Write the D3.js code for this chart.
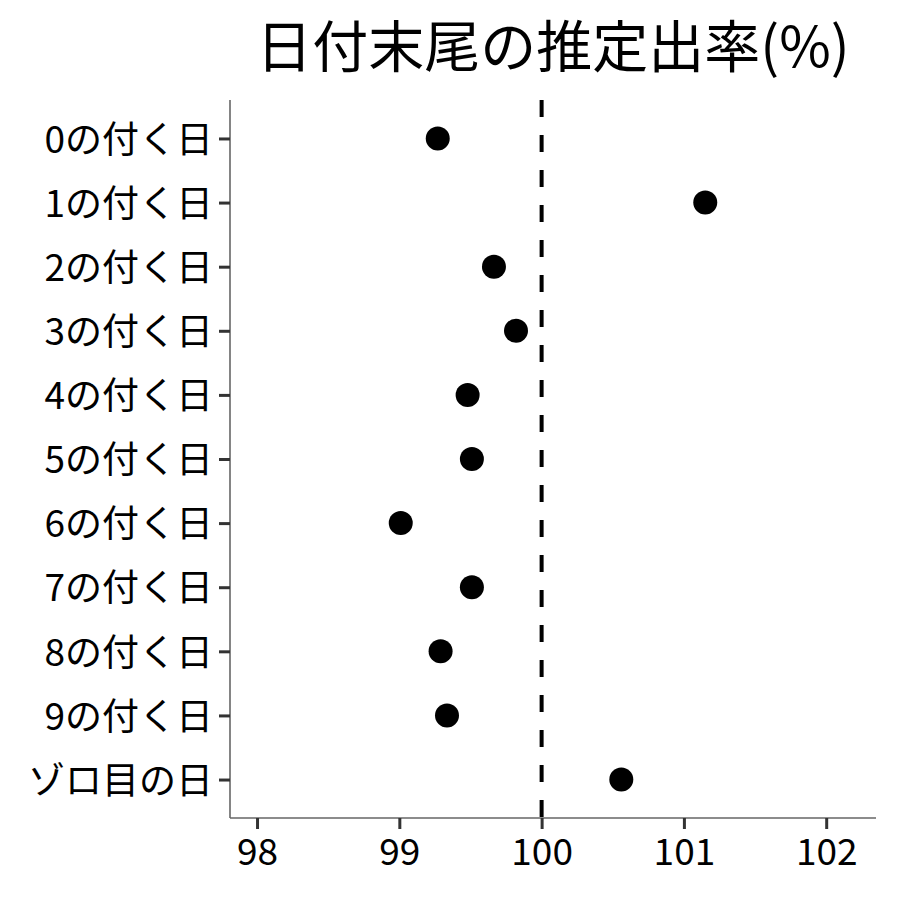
<!DOCTYPE html>
<html>
<head>
<meta charset="utf-8">
<script src="https://cdn.jsdelivr.net/npm/d3@7"></script>
<style>
  body { margin: 0; background: #fff; }
  svg text { font-family: "Noto Sans CJK JP", "Noto Sans", sans-serif; fill: #000; }
</style>
</head>
<body>
<div id="chart"></div>
<script>
const title = "日付末尾の推定出率(%)";
const categories = ["0の付く日", "1の付く日", "2の付く日", "3の付く日", "4の付く日",
    "5の付く日", "6の付く日", "7の付く日", "8の付く日", "9の付く日", "ゾロ目の日"];
const rates = [99.27, 101.15, 99.665, 99.82, 99.48, 99.51, 99.01, 99.51, 99.29, 99.335, 100.56];
const xTicks = [98, 99, 100, 101, 102];
const refValue = 100;

const W = 900, H = 900;
const margin = { top: 100, right: 24, bottom: 82, left: 230 };
const width = W - margin.left - margin.right;
const height = H - margin.top - margin.bottom;

const svg = d3.select("#chart").append("svg")
    .attr("width", W)
    .attr("height", H);

const g = svg.append("g")
    .attr("transform", `translate(${margin.left},${margin.top})`);

// x scale (extends a bit past the tick range, like the reference)
const x = d3.scaleLinear()
    .domain([97.81, 102.35])
    .range([0, width]);

// discrete y with 0.6 unit padding on each end
const y = d3.scalePoint()
    .domain(categories)
    .range([0, height])
    .padding(0.6);

// axes
const xAxis = g.append("g")
    .attr("transform", `translate(0,${height})`)
    .call(d3.axisBottom(x).tickValues(xTicks).tickSize(11).tickPadding(10).tickFormat(d3.format("d")));

const yAxis = g.append("g")
    .call(d3.axisLeft(y).tickSize(11).tickPadding(6));

[xAxis, yAxis].forEach(a => {
    a.select(".domain").attr("stroke", "#666").attr("stroke-width", 1.6);
    a.selectAll(".tick line").attr("stroke", "#333").attr("stroke-width", 3);
    a.selectAll(".tick text").style("font-size", "37px").attr("fill", "#000");
});
yAxis.selectAll(".tick text").attr("dy", "0.37em");
// x axis domain line without end caps
xAxis.select(".domain").attr("d", `M0,0H${width}`);
yAxis.select(".domain").attr("d", `M0,0V${height}`);

// reference line
g.append("line")
    .attr("x1", x(refValue)).attr("x2", x(refValue))
    .attr("y1", 0).attr("y2", height)
    .attr("stroke", "#000")
    .attr("stroke-width", 4)
    .attr("stroke-dasharray", "17,18");

// points
g.selectAll(".dot")
    .data(categories.map((c, i) => ({ cat: c, v: rates[i] })))
    .enter()
    .append("circle")
    .attr("class", "dot")
    .attr("cx", d => x(d.v))
    .attr("cy", d => y(d.cat))
    .attr("r", 12)
    .attr("fill", "#000");

// title
svg.append("text")
    .attr("x", 553)
    .attr("y", 67)
    .attr("text-anchor", "middle")
    .style("font-size", "56px")
    .text(title);
</script>
</body>
</html>
